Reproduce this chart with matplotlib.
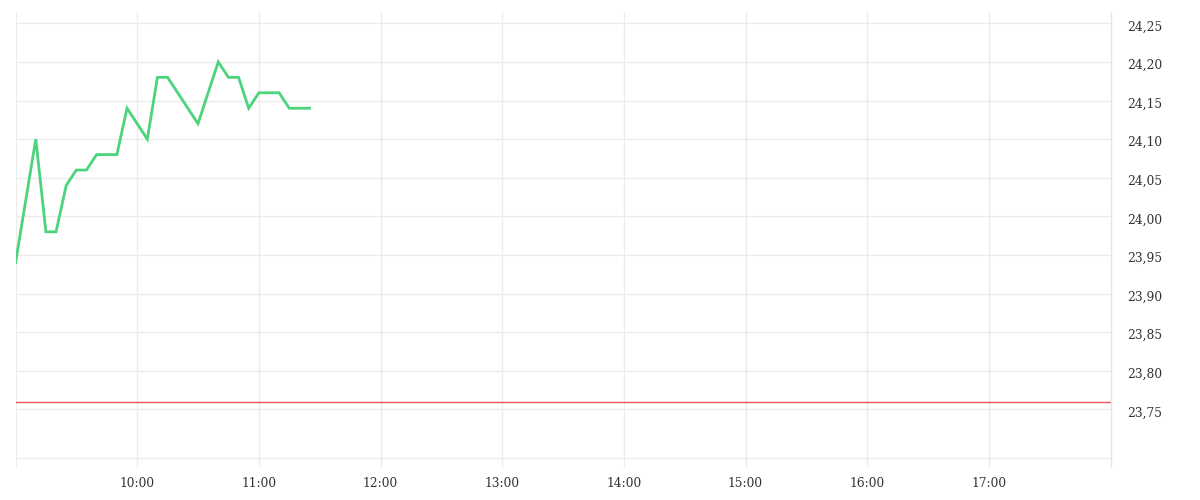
import matplotlib
matplotlib.use("Agg")
import matplotlib.pyplot as plt
import matplotlib.dates as mdates
from matplotlib.ticker import FixedLocator, FuncFormatter
import matplotlib.transforms as mtrans
import datetime as dt

times = ["09:00", "09:10", "09:15", "09:20", "09:25", "09:30", "09:35", "09:40",
         "09:50", "09:55", "10:05", "10:10", "10:15", "10:30", "10:40", "10:45",
         "10:50", "10:55", "11:00", "11:10", "11:15", "11:25"]
prices = [23.94, 24.10, 23.98, 23.98, 24.04, 24.06, 24.06, 24.08,
          24.08, 24.14, 24.10, 24.18, 24.18, 24.12, 24.20, 24.18,
          24.18, 24.14, 24.16, 24.16, 24.14, 24.14]
prev_close = 23.76
y_ticks = [23.75, 23.80, 23.85, 23.90, 23.95, 24.00, 24.05, 24.10, 24.15, 24.20, 24.25]
x_tick_labels = ["10:00", "11:00", "12:00", "13:00", "14:00", "15:00", "16:00", "17:00"]

day = dt.date(2024, 1, 2)
def t(s):
    h, m = map(int, s.split(":"))
    return dt.datetime.combine(day, dt.time(h, m))

xs = [t(s) for s in times]

fig = plt.figure(figsize=(12, 5), dpi=100)
ax = fig.add_axes([15.5 / 1200, 1 - 467 / 500, (1110.5 - 15.5) / 1200, (467 - 12) / 500])

grid_c = "#ececec"
ax.set_xlim(t("09:00"), t("18:00"))
ax.set_ylim(23.6755, 24.2646)

xt = [t("09:00")] + [t(s) for s in x_tick_labels]
ax.xaxis.set_major_locator(FixedLocator([mdates.date2num(v) for v in xt]))
ax.xaxis.set_major_formatter(FuncFormatter(lambda v, p: "" if p == 0 else mdates.num2date(v).strftime("%H:%M")))
ax.yaxis.set_major_locator(FixedLocator(y_ticks))
ax.yaxis.set_major_formatter(FuncFormatter(lambda v, p: f"{v:.2f}".replace(".", ",")))
ax.yaxis.tick_right()

ax.grid(True, color=grid_c, linewidth=1.0)
ax.axhline(23.6872, color=grid_c, linewidth=1.0, zorder=0)
ax.set_axisbelow(True)

for s in ["top", "left", "bottom"]:
    ax.spines[s].set_visible(False)
ax.spines["right"].set_color("#e6e6e6")
ax.spines["right"].set_linewidth(1.0)

ax.tick_params(axis="both", length=0, labelsize=8.8, labelcolor="#333333")
ax.tick_params(axis="y", pad=12)
ax.tick_params(axis="x", pad=7)
shift = mtrans.ScaledTranslation(0, -2 / 100, fig.dpi_scale_trans)
for lab in ax.get_xticklabels() + ax.get_yticklabels():
    lab.set_fontfamily("DejaVu Serif")
for lab in ax.get_yticklabels():
    lab.set_transform(lab.get_transform() + shift)

ax.axhline(prev_close, color="#f2555f", linewidth=1.0, zorder=2)
ax.plot(xs, prices, color="#4cd47c", linewidth=2.0, solid_joinstyle="miter", zorder=3)

fig.savefig("out.png", dpi=100)
